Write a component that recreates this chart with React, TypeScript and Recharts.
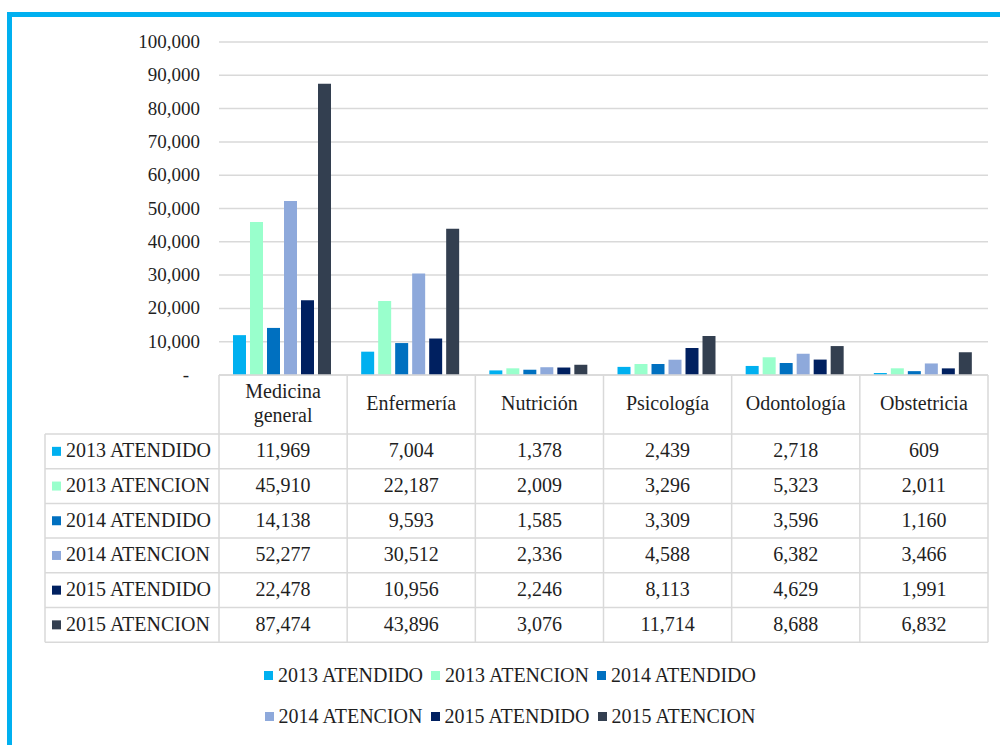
import { BarChart, Bar, XAxis, YAxis, CartesianGrid, Legend } from "recharts";

const categories = ["Medicina general", "Enfermería", "Nutrición", "Psicología", "Odontología", "Obstetricia"];

const atendido2013 = [11969, 7004, 1378, 2439, 2718, 609];
const atencion2013 = [45910, 22187, 2009, 3296, 5323, 2011];
const atendido2014 = [14138, 9593, 1585, 3309, 3596, 1160];
const atencion2014 = [52277, 30512, 2336, 4588, 6382, 3466];
const atendido2015 = [22478, 10956, 2246, 8113, 4629, 1991];
const atencion2015 = [87474, 43896, 3076, 11714, 8688, 6832];

const yTicks = [0, 10000, 20000, 30000, 40000, 50000, 60000, 70000, 80000, 90000, 100000];

const series = [
  { key: "a2013", name: "2013 ATENDIDO", values: atendido2013, color: "#00B0F0" },
  { key: "c2013", name: "2013 ATENCION", values: atencion2013, color: "#99FFCC" },
  { key: "a2014", name: "2014 ATENDIDO", values: atendido2014, color: "#0070C0" },
  { key: "c2014", name: "2014 ATENCION", values: atencion2014, color: "#8EA9DB" },
  { key: "a2015", name: "2015 ATENDIDO", values: atendido2015, color: "#002060" },
  { key: "c2015", name: "2015 ATENCION", values: atencion2015, color: "#333F50" },
];

const data = categories.map((name, i) => {
  const row: Record<string, string | number> = { name };
  series.forEach((s) => (row[s.key] = s.values[i]));
  return row;
});

// layout
const CHART_W = 1000;
const CHART_H = 745;
const Y_AXIS_W = 60;
const MARGIN = { top: 42, right: 12, left: 159, bottom: 90 };
const X_AXIS_H = 280;
const PLOT_W = CHART_W - MARGIN.left - Y_AXIS_W - MARGIN.right;
const BAND = PLOT_W / categories.length;
const HEADER_H = 59;
const ROW_H = 34.7;
const LABEL_LEFT = 45;
const LINE = "#D9D9D9";
const FONT = "Liberation Serif";
const TEXT = "#1F1F1F";
const FS = 20;

const fmt = (v: number) => v.toLocaleString("en-US");

const YTick = (props: any) => {
  const { x, y, payload } = props;
  const isZero = payload.value === 0;
  return (
    <text x={isZero ? x - 11 : x} y={y} dy={6} textAnchor="end" style={{ fontFamily: FONT }} fontSize={19} fill={TEXT}>
      {isZero ? "-" : fmt(payload.value)}
    </text>
  );
};

// dibuja la tabla de datos debajo del eje X, columna por columna
const TableTick = (props: any) => {
  const { x, y, payload, index } = props;
  const top = y;
  const bottom = top + HEADER_H + series.length * ROW_H;
  const xl = x - BAND / 2;
  const xr = x + BAND / 2;
  const lines = String(payload.value).split(" ");
  const first = index === 0;
  const tableRight = xl + BAND * categories.length;

  return (
    <g>
      <line x1={xr} y1={top} x2={xr} y2={bottom} stroke={LINE} strokeWidth={1.5} />
      {first && (
        <g>
          <line x1={xl} y1={top} x2={xl} y2={bottom} stroke={LINE} strokeWidth={1.5} />
          <line x1={xl} y1={top} x2={tableRight} y2={top} stroke={LINE} strokeWidth={1.5} />
          <line x1={LABEL_LEFT} y1={top + HEADER_H} x2={LABEL_LEFT} y2={bottom} stroke={LINE} strokeWidth={1.5} />
          {series.map((s, r) => (
            <line
              key={`h${r}`}
              x1={LABEL_LEFT}
              y1={top + HEADER_H + r * ROW_H}
              x2={tableRight}
              y2={top + HEADER_H + r * ROW_H}
              stroke={LINE}
              strokeWidth={1.5}
            />
          ))}
          <line x1={LABEL_LEFT} y1={bottom} x2={tableRight} y2={bottom} stroke={LINE} strokeWidth={1.5} />
          {series.map((s, r) => {
            const cy = top + HEADER_H + r * ROW_H + ROW_H / 2;
            return (
              <g key={`l${r}`}>
                <rect x={LABEL_LEFT + 7} y={cy - 4.5} width={9} height={9} fill={s.color} />
                <text x={LABEL_LEFT + 21} y={cy} dy={6} style={{ fontFamily: FONT }} fontSize={FS} fill={TEXT}>
                  {s.name}
                </text>
              </g>
            );
          })}
        </g>
      )}
      {lines.length > 1 ? (
        lines.map((ln, k) => (
          <text key={k} x={x} y={top + 17 + k * 24} dy={6} textAnchor="middle" style={{ fontFamily: FONT }} fontSize={FS} fill={TEXT}>
            {ln}
          </text>
        ))
      ) : (
        <text x={x} y={top + 29} dy={6} textAnchor="middle" style={{ fontFamily: FONT }} fontSize={FS} fill={TEXT}>
          {payload.value}
        </text>
      )}
      {series.map((s, r) => (
        <text
          key={`v${r}`}
          x={x}
          y={top + HEADER_H + r * ROW_H + ROW_H / 2}
          dy={6}
          textAnchor="middle"
          style={{ fontFamily: FONT }}
          fontSize={FS}
          fill={TEXT}
        >
          {fmt(s.values[index])}
        </text>
      ))}
    </g>
  );
};

const renderLegend = () => {
  const rows = [series.slice(0, 3), series.slice(3)];
  return (
    <div style={{ fontFamily: FONT, fontSize: FS, color: TEXT }}>
      {rows.map((row, i) => (
        <div
          key={i}
          style={{ display: "flex", justifyContent: "center", height: 22, lineHeight: "22px", marginBottom: 19 }}
        >
          {row.map((s) => (
            <span key={s.key} style={{ display: "inline-flex", alignItems: "center", marginRight: 8 }}>
              <span style={{ width: 9, height: 9, background: s.color, display: "inline-block", marginRight: 5 }} />
              {s.name}
            </span>
          ))}
        </div>
      ))}
    </div>
  );
};

export default function App() {
  return (
    <div style={{ position: "absolute", left: 0, top: 0, width: CHART_W, height: CHART_H, background: "#fff", overflow: "hidden" }}>
      <div
        style={{
          position: "absolute",
          left: 7,
          top: 12,
          width: CHART_W,
          height: CHART_H,
          borderTop: "5px solid #00B0F0",
          borderLeft: "5px solid #00B0F0",
        }}
      />
      <div style={{ position: "absolute", left: 0, top: 0 }}>
        <BarChart
          width={CHART_W}
          height={CHART_H}
          data={data}
          margin={MARGIN}
          barCategoryGap={14}
          barGap={4}
        >
          <CartesianGrid vertical={false} stroke={LINE} strokeWidth={1.5} />
          <XAxis
            dataKey="name"
            height={X_AXIS_H}
            axisLine={false}
            tickLine={false}
            tickSize={0}
            tickMargin={0}
            interval={0}
            tick={<TableTick />}
          />
          <YAxis
            width={Y_AXIS_W}
            domain={[0, 100000]}
            ticks={yTicks}
            axisLine={false}
            tickLine={false}
            tickSize={0}
            tickMargin={19}
            tick={<YTick />}
          />
          <Legend
            layout="horizontal"
            verticalAlign="middle"
            align="center"
            content={renderLegend}
            wrapperStyle={{ left: 14, top: 664, width: CHART_W }}
          />
          {series.map((s) => (
            <Bar key={s.key} dataKey={s.key} name={s.name} fill={s.color} isAnimationActive={false} />
          ))}
        </BarChart>
      </div>
    </div>
  );
}
